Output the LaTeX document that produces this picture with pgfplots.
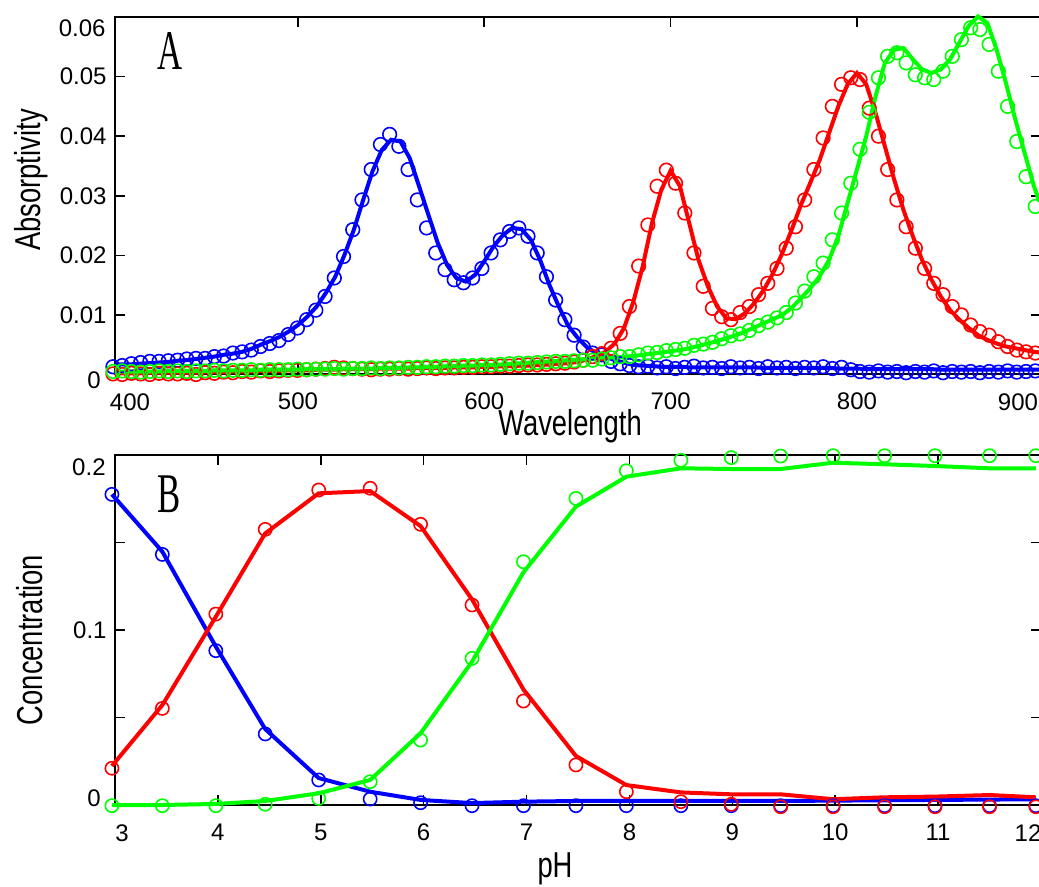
\documentclass[border=0pt]{standalone}
\usepackage{pgfplots}
\pgfplotsset{compat=1.18}
\usepackage{pgfplotstable}
\usepackage{graphicx}
\usepackage{fontspec}
\setmainfont{Liberation Sans}
\newfontfamily\panelfont{Liberation Serif}
\definecolor{pb}{RGB}{0,0,255}
\definecolor{pr}{RGB}{255,0,0}
\definecolor{pg}{RGB}{0,255,0}
\newcommand{\axlab}[1]{\scalebox{0.76}[1]{\fontsize{18}{18}\selectfont #1}}
\newcommand{\panlab}[1]{\scalebox{0.62}[1]{\panelfont\fontsize{28}{28}\selectfont #1}}
\newcommand{\tl}{\fontsize{12}{12}\selectfont}

\pgfplotstableread{
lam b r g
402 .0016 .0002 .0005
405 .0017 .0002 .0005
410 .0017 .0002 .0005
415 .0018 .0002 .0005
420 .0019 .0003 .0005
425 .0020 .0003 .0005
430 .0021 .0003 .0006
435 .0023 .0003 .0006
440 .0024 .0003 .0006
445 .0026 .0003 .0006
450 .0028 .0004 .0006
455 .0030 .0004 .0007
460 .0033 .0004 .0007
465 .0035 .0005 .0007
470 .0038 .0005 .0007
475 .0043 .0005 .0007
480 .0050 .0006 .0008
485 .0056 .0006 .0008
490 .0063 .0006 .0008
495 .0072 .0007 .0008
500 .0083 .0007 .0008
505 .0097 .0007 .0009
510 .0114 .0008 .0009
515 .0137 .0008 .0009
520 .0164 .0008 .0009
525 .0201 .0009 .0010
530 .0243 .0009 .0010
535 .0293 .0009 .0010
540 .0341 .0009 .0010
545 .0377 .0010 .0011
550 .0394 .0010 .0011
555 .0391 .0010 .0011
560 .0363 .0010 .0012
565 .0316 .0011 .0012
570 .0268 .0011 .0013
575 .0221 .0011 .0013
580 .0184 .0011 .0014
585 .0162 .0012 .0014
590 .0156 .0012 .0015
595 .0167 .0012 .0015
600 .0190 .0013 .0016
605 .0215 .0013 .0016
610 .0234 .0014 .0017
615 .0246 .0014 .0018
620 .0244 .0015 .0019
625 .0226 .0015 .0020
630 .0192 .0016 .0021
635 .0150 .0017 .0022
640 .0114 .0018 .0023
645 .0082 .0019 .0024
650 .0062 .0021 .0025
655 .0046 .0025 .0026
660 .0036 .0031 .0027
665 .0030 .0038 .0028
670 .0024 .0052 .0029
675 .0020 .0078 .0030
680 .0016 .0122 .0031
685 .0015 .0181 .0033
690 .0014 .0254 .0035
695 .0013 .0310 .0037
700 .0013 .0342 .0039
705 .0013 .0316 .0041
710 .0012 .0254 .0044
715 .0012 .0192 .0048
720 .0012 .0148 .0052
725 .0012 .0114 .0056
730 .0012 .0094 .0061
735 .0012 .0093 .0066
740 .0012 .0103 .0072
745 .0012 .0120 .0079
750 .0011 .0142 .0086
755 .0011 .0170 .0093
760 .0011 .0204 .0100
765 .0011 .0243 .0112
770 .0011 .0285 .0128
775 .0011 .0322 .0145
780 .0011 .0360 .0165
785 .0011 .0405 .0192
790 .0010 .0450 .0232
795 .0010 .0487 .0288
800 .0010 .0506 .0344
805 .0009 .0487 .0400
810 .0009 .0439 .0467
815 .0009 .0383 .0523
820 .0009 .0327 .0545
825 .0009 .0276 .0548
830 .0009 .0232 .0529
835 .0009 .0192 .0512
840 .0009 .0159 .0506
845 .0008 .0131 .0512
850 .0008 .0108 .0529
855 .0008 .0092 .0557
860 .0008 .0078 .0585
865 .0008 .0066 .0601
870 .0008 .0058 .0590
875 .0008 .0052 .0545
880 .0008 .0047 .0489
885 .0008 .0044 .0428
890 .0008 .0041 .0372
895 .0008 .0038 .0316
898 .0008 .0037 .0290
}\topline

\pgfplotstableread{
lam b r g
400.7 .0013 .0001 .0005
405.65 .0015 .0000 .0006
410.6 .0018 .0002 .0005
415.55 .0020 .0001 .0004
420.5 .0022 .0000 .0005
425.45 .0022 .0002 .0006
430.4 .0023 .0001 .0005
435.35 .0024 .0001 .0006
440.3 .0026 .0002 .0005
445.25 .0027 .0000 .0006
450.2 .0027 .0003 .0006
455.15 .0030 .0002 .0007
460.1 .0031 .0004 .0006
465.05 .0036 .0003 .0007
470.0 .0038 .0005 .0007
474.95 .0041 .0004 .0008
479.9 .0047 .0006 .0007
484.85 .0052 .0005 .0008
489.8 .0057 .0006 .0008
494.75 .0067 .0007 .0008
499.7 .0078 .0007 .0009
504.65 .0092 .0008 .0008
509.6 .0108 .0009 .0009
514.55 .0131 .0010 .0009
519.5 .0162 .0012 .0010
524.45 .0198 .0011 .0009
529.4 .0243 .0010 .0010
534.35 .0293 .0009 .0010
539.3 .0344 .0008 .0011
544.25 .0386 .0009 .0010
549.2 .0403 .0009 .0011
554.15 .0383 .0010 .0011
559.1 .0344 .0009 .0012
564.05 .0293 .0010 .0012
569.0 .0246 .0011 .0013
573.95 .0204 .0010 .0013
578.9 .0176 .0011 .0014
583.85 .0159 .0011 .0014
588.8 .0154 .0012 .0015
593.75 .0162 .0012 .0015
598.7 .0178 .0013 .0016
603.65 .0204 .0013 .0016
608.6 .0226 .0014 .0017
613.55 .0240 .0014 .0018
618.5 .0246 .0015 .0019
623.45 .0232 .0016 .0019
628.4 .0204 .0016 .0020
633.35 .0164 .0017 .0021
638.3 .0125 .0018 .0022
643.25 .0092 .0019 .0022
648.2 .0066 .0021 .0023
653.15 .0046 .0024 .0024
658.1 .0036 .0030 .0024
663.05 .0033 .0035 .0026
668.0 .0022 .0044 .0028
672.95 .0018 .0069 .0030
677.9 .0015 .0114 .0030
682.85 .0013 .0182 .0033
687.8 .0014 .0251 .0036
692.75 .0011 .0316 .0037
697.7 .0013 .0343 .0040
702.65 .0010 .0321 .0042
707.6 .0012 .0271 .0044
712.55 .0014 .0204 .0049
717.5 .0011 .0148 .0051
722.45 .0012 .0111 .0054
727.4 .0010 .0097 .0060
732.35 .0013 .0092 .0065
737.3 .0011 .0104 .0068
742.25 .0012 .0114 .0074
747.2 .0010 .0134 .0082
752.15 .0013 .0153 .0088
757.1 .0011 .0178 .0095
762.05 .0012 .0212 .0104
767.0 .0010 .0248 .0120
771.95 .0012 .0293 .0140
776.9 .0011 .0344 .0164
781.85 .0013 .0397 .0187
786.8 .0010 .0450 .0226
791.75 .0012 .0487 .0271
796.7 .0008 .0498 .0321
801.65 .0005 .0495 .0378
806.6 .0004 .0447 .0440
811.55 .0006 .0400 .0498
816.5 .0004 .0344 .0534
821.45 .0005 .0293 .0540
826.4 .0003 .0248 .0523
831.35 .0005 .0212 .0503
836.3 .0004 .0178 .0498
841.25 .0006 .0153 .0495
846.2 .0003 .0134 .0509
851.15 .0005 .0114 .0534
856.1 .0004 .0100 .0562
861.05 .0005 .0083 .0582
866.0 .0003 .0072 .0579
870.95 .0005 .0066 .0554
875.9 .0004 .0055 .0509
880.85 .0006 .0047 .0450
885.8 .0004 .0041 .0391
890.75 .0005 .0038 .0332
895.7 .0006 .0036 .0282
}\topcirc

\pgfplotstableread{
ph bl bc rl rc gl gc
2.97 .1775 .1775 .0223 .0210 .0000 -.0004
3.46 .1448 .1432 .0571 .0552 .0000 -.0004
3.98 .0905 .0882 .1076 .1091 .0006 -.0004
4.46 .0434 .0406 .1552 .1575 .0023 .0004
4.98 .0154 .0143 .1781 .1800 .0067 .0038
5.48 .0076 .0034 .1794 .1810 .0143 .0133
5.97 .0029 .0013 .1594 .1604 .0410 .0371
6.47 .0011 -.0004 .1175 .1143 .0819 .0838
6.97 .0019 -.0004 .0660 .0594 .1330 .1390
7.48 .0023 -.0004 .0280 .0229 .1705 .1752
7.97 .0023 -.0004 .0114 .0076 .1876 .1910
8.50 .0023 -.0004 .0072 .0019 .1924 .1970
8.99 .0023 -.0004 .0061 .0004 .1920 .1985
9.47 .0023 -.0004 .0061 -.0010 .1920 .1994
9.98 .0025 -.0004 .0033 -.0010 .1956 .1996
10.48 .0027 -.0004 .0044 -.0010 .1947 .1996
10.97 .0029 -.0004 .0048 -.0010 .1937 .1996
11.50 .0031 -.0004 .0057 -.0010 .1924 .1996
11.95 .0033 -.0004 .0044 -.0010 .1924 .1996
}\botdata

\pgfplotsset{
  mystyle/.style={scale only axis, clip=false, tick align=inside, major tick length=5pt,
    axis line style={line width=1pt}, tick style={line width=0.8pt, black},
    scaled ticks=false,
    ticklabel style={font=\tl}, /pgf/number format/assume math mode=true,
    xticklabel style={yshift=-5.75pt}, yticklabel style={xshift=-0.7pt}},
  circ/.style={only marks, mark=o, mark size=3.4pt, mark options={line width=0.8pt}},
  ln/.style={no marks, line width=2pt},
}

\begin{document}
\begin{tikzpicture}
\begin{axis}[mystyle, at={(57.5pt,-187.25pt)}, anchor=south west,
  width=463pt, height=178.75pt,
  xmin=401.8, xmax=898.8, ymin=0, ymax=0.06,
  xtick={500,600,700,800}, xticklabels={500,600,700,800},
  ytick={0,0.01,0.02,0.03,0.04,0.05,0.06},
  yticklabels={,0.01,0.02,0.03,0.04,0.05,}]
\addplot[circ, pb] table[x=lam,y=b]{\topcirc};
\addplot[circ, pr] table[x=lam,y=r]{\topcirc};
\addplot[circ, pg] table[x=lam,y=g]{\topcirc};
\addplot[ln, pb] table[x=lam,y=b]{\topline};
\addplot[ln, pr] table[x=lam,y=r]{\topline};
\addplot[ln, pg] table[x=lam,y=g]{\topline};
\end{axis}
\begin{axis}[mystyle, at={(57.5pt,-402.5pt)}, anchor=south west,
  width=463pt, height=175pt,
  xmin=3, xmax=12, ymin=0, ymax=0.2,
  xtick={3,4,5,6,7,8,9,10,11,12}, xticklabels={,4,5,6,7,8,9,10,11,},
  ytick={0,0.05,0.1,0.15,0.2}, yticklabels={,,0.1,,}]
\addplot[circ, mark size=3.3pt, pb] table[x=ph,y=bc]{\botdata};
\addplot[circ, mark size=3.3pt, pr] table[x=ph,y=rc]{\botdata};
\addplot[circ, mark size=3.3pt, pg] table[x=ph,y=gc]{\botdata};
\addplot[ln, pb] table[x=ph,y=bl]{\botdata};
\addplot[ln, pr] table[x=ph,y=rl]{\botdata};
\addplot[ln, pg] table[x=ph,y=gl]{\botdata};
\end{axis}
\begin{scope}[x=0.5pt,y=-0.5pt]
  \node[font=\tl, anchor=east, inner sep=0pt] at (101,380) {0};
  \node[font=\tl, anchor=east, inner sep=0pt] at (106,28) {0.06};
  \node[font=\tl, inner sep=0pt] at (130,402) {400};
  \node[font=\tl, inner sep=0pt] at (1018,402) {900};
  \node[font=\tl, anchor=east, inner sep=0pt] at (106,467) {0.2};
  \node[font=\tl, anchor=east, inner sep=0pt] at (101,798) {0};
  \node[font=\tl, inner sep=0pt] at (122,833) {3};
  \node[font=\tl, inner sep=0pt] at (1028,833) {12};
  \node[inner sep=0pt] at (570,426) {\axlab{Wavelength}};
  \node[inner sep=0pt] at (555,869) {\axlab{pH}};
  \node[inner sep=0pt, rotate=90] at (31,180) {\axlab{Absorptivity}};
  \node[inner sep=0pt, rotate=90] at (30,640) {\axlab{Concentration}};
  \node[inner sep=0pt] at (170,51) {\panlab{A}};
  \node[inner sep=0pt] at (169,494) {\panlab{B}};
\end{scope}
\pgfresetboundingbox
\path[use as bounding box] (0,0) rectangle (519.5pt,-443.5pt);
\end{tikzpicture}
\end{document}
